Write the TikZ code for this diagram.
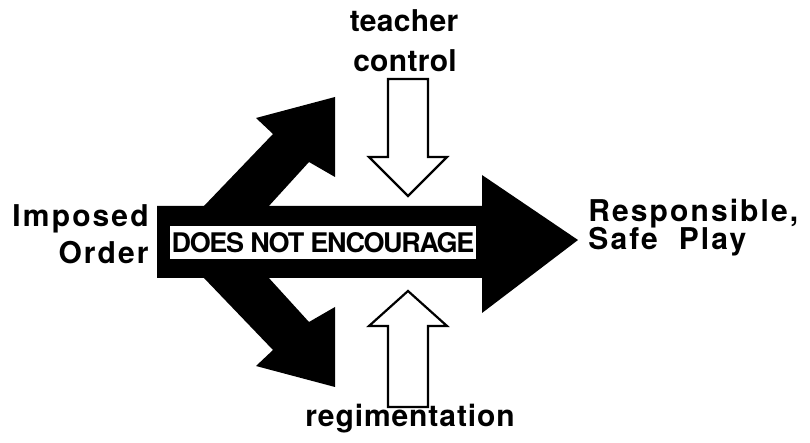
\documentclass[tikz,border=0pt]{standalone}
\usepackage{fontspec}
\setmainfont{TeX Gyre Heros}
\begin{document}
\begin{tikzpicture}[x=0.5pt,y=-0.5pt,
  sidelbl/.style={inner sep=0pt, font=\fontsize{15}{15}\selectfont\bfseries\addfontfeature{LetterSpace=7}},
  toplbl/.style={inner sep=0pt, font=\fontsize{15}{15}\selectfont\bfseries\addfontfeature{LetterSpace=1}},
  hollow/.style={draw=black, line width=1.1pt, fill=white, line join=miter}]
\useasboundingbox (0,0) rectangle (810,443);
% Main black arrow
\fill[black] (157,206) -- (482,206) -- (482,175) -- (578,240) -- (482,313)
  -- (482,278) -- (157,278) -- cycle;
% Upper and lower branch arrows
\fill[black] (203,207) -- (273,134) -- (256,118) -- (335,97) -- (335,177)
  -- (309,162) -- (268,207) -- cycle;
\fill[black] (203,277) -- (273,350) -- (256,366) -- (335,387) -- (335,307)
  -- (309,322) -- (268,277) -- cycle;
% White label strip
\node[fill=white, minimum width=153pt, minimum height=16.5pt, inner sep=0pt,
  font=\fontsize{13.5}{13.5}\selectfont\bfseries\addfontfeature{LetterSpace=-5}]
  (strip) at (323,242.5) {DOES NOT ENCOURAGE};
% Hollow arrows
\draw[hollow] (388,79) -- (428,79) -- (428,157) -- (447,157) -- (408,196)
  -- (369,157) -- (388,157) -- cycle;
\draw[hollow] (388,407) -- (428,407) -- (428,326) -- (447,326) -- (408,291)
  -- (369,326) -- (388,326) -- cycle;
% Labels
\node[toplbl, anchor=base] (teacher) at (404,32) {teacher};
\node[toplbl, anchor=base] (control) at (405,72) {control};
\node[sidelbl, anchor=base, font=\fontsize{15}{15}\selectfont\bfseries\addfontfeature{LetterSpace=3}]
  (regiment) at (410,427) {regimentation};
\node[sidelbl, anchor=base east] (imposed) at (149,227) {Imposed};
\node[sidelbl, anchor=base east] (order) at (149,264) {Order};
\node[sidelbl, anchor=base west] (resp) at (588,222) {Responsible,};
\node[sidelbl, anchor=base west] (safe) at (588,250) {Safe\ \ Play};
\end{tikzpicture}
\end{document}
